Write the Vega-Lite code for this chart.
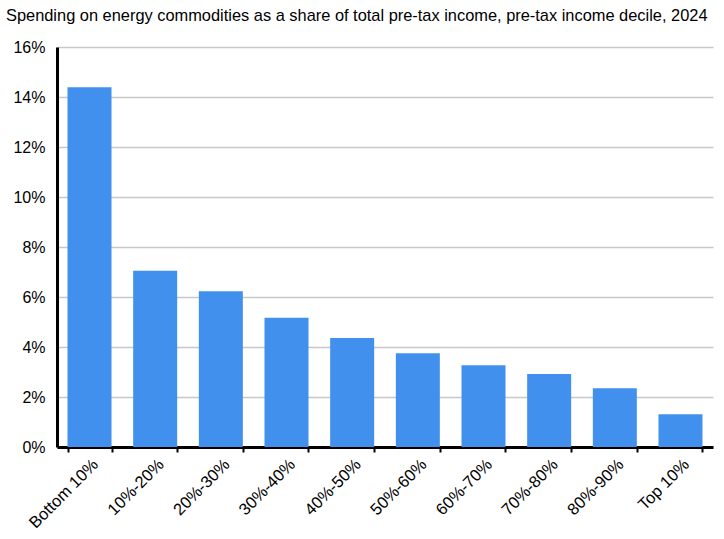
{
  "$schema": "https://vega.github.io/schema/vega-lite/v6.json",
  "width": 656,
  "height": 400,
  "padding": {"left": 5, "top": 7, "right": 8, "bottom": 5},
  "background": "white",
  "title": {
    "text": "Spending on energy commodities as a share of total pre-tax income, pre-tax income decile, 2024",
    "anchor": "start",
    "frame": "bounds",
    "font": "Liberation Sans",
    "fontSize": 16.4,
    "fontWeight": "normal",
    "color": "#000000",
    "offset": 15,
    "dx": -7
  },
  "config": {
    "view": {"stroke": null},
    "font": "Liberation Sans"
  },
  "data": {
    "values": [
      {"decile": "Bottom 10%", "share": 0.1439},
      {"decile": "10%-20%", "share": 0.0705},
      {"decile": "20%-30%", "share": 0.0623},
      {"decile": "30%-40%", "share": 0.0517},
      {"decile": "40%-50%", "share": 0.0436},
      {"decile": "50%-60%", "share": 0.0375},
      {"decile": "60%-70%", "share": 0.0327},
      {"decile": "70%-80%", "share": 0.0292},
      {"decile": "80%-90%", "share": 0.0235},
      {"decile": "Top 10%", "share": 0.0131}
    ]
  },
  "mark": {"type": "bar", "color": "#4190ed"},
  "encoding": {
    "x": {
      "field": "decile",
      "type": "nominal",
      "sort": null,
      "title": null,
      "scale": {"paddingInner": 0.33, "paddingOuter": 0.16},
      "axis": {
        "labelAngle": -45,
        "labelFontSize": 16.5,
        "labelColor": "#000000",
        "labelPadding": 4,
        "tickBand": "extent",
        "ticks": true,
        "tickColor": "#000000",
        "tickWidth": 2,
        "tickSize": 5,
        "domainColor": "#000000",
        "domainWidth": 3,
        "grid": false
      }
    },
    "y": {
      "field": "share",
      "type": "quantitative",
      "title": null,
      "scale": {"domain": [0, 0.16], "nice": false},
      "axis": {
        "format": ".0%",
        "values": [0, 0.02, 0.04, 0.06, 0.08, 0.1, 0.12, 0.14, 0.16],
        "labelFontSize": 16,
        "labelColor": "#000000",
        "labelPadding": 12,
        "ticks": false,
        "domainColor": "#000000",
        "domainWidth": 3,
        "grid": true,
        "gridColor": "#c8c8c8",
        "gridWidth": 1.5
      }
    }
  }
}
